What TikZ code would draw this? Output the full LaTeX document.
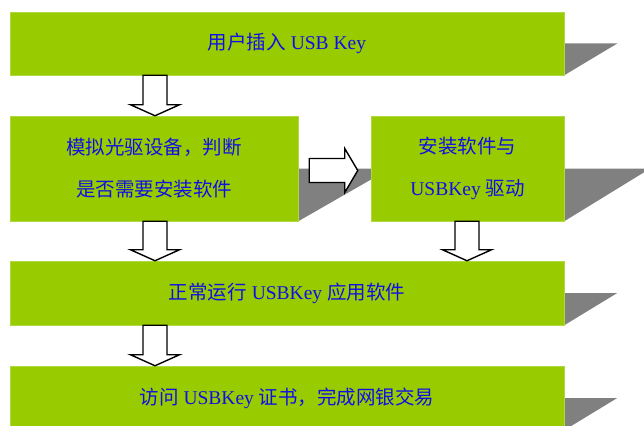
\documentclass[tikz,border=0pt]{standalone}
\usepackage{fontspec}
\setmainfont{Liberation Serif}
\newfontfamily\cjk{Noto Sans CJK SC}
\usetikzlibrary{calc,backgrounds}
\definecolor{boxgreen}{RGB}{153,204,0}
\definecolor{boxedge}{RGB}{176,216,64}
\definecolor{shadowgray}{RGB}{128,128,128}
\definecolor{txtblue}{RGB}{16,16,230}
\newcommand\zh[1]{{\cjk #1}}
\tikzset{
  stepbox/.style={rectangle, fill=boxgreen, draw=boxedge, line width=0.5pt,
    inner sep=0pt, text=txtblue, align=center,
    font=\fontsize{19.5}{42}\selectfont},
  shade3d/.style={fill=shadowgray},
  blockarrow/.style={draw=black, fill=white, line width=1.4pt, line join=miter}
}
% vertical block arrow at x=#1 (px) from node #2 (bottom) to node #3 (top)
\newcommand\varrow[3]{%
  \path let \p1=(#2.south), \p2=(#3.north) in [blockarrow]
    (#1pt-12pt,\y1) -- (#1pt+12pt,\y1) -- (#1pt+12pt,\y2+11pt)
    -- (#1pt+24.5pt,\y2+11pt) -- (#1pt,\y2) -- (#1pt-24.5pt,\y2+11pt)
    -- (#1pt-12pt,\y2+11pt) -- cycle;}
% horizontal block arrow from node #1 (right side) to node #2 (left side)
\newcommand\harrow[2]{%
  \path let \p1=(#1.east), \p2=(#2.west) in [blockarrow]
    (\x1+11pt,\y1+10pt) -- (\x2-26pt,\y1+10pt) -- (\x2-26pt,\y1+20pt)
    -- (\x2-13pt,\y1-2pt) -- (\x2-26pt,\y1-24pt) -- (\x2-26pt,\y1-14pt)
    -- (\x1+11pt,\y1-14pt) -- cycle;}
\begin{document}
\begin{tikzpicture}[x=1pt,y=-1pt]
\useasboundingbox (0,0) rectangle (644,425);
\clip (0,0) rectangle (644,425);
\node[stepbox, minimum width=554pt, minimum height=63pt] (b1) at (287,43.5)
    {\zh{用户插入} USB Key};
\node[stepbox, minimum width=288pt, minimum height=105pt] (b2) at (154,168.5)
    {\zh{模拟光驱设备，判断}\\\zh{是否需要安装软件}};
\node[stepbox, minimum width=193pt, minimum height=105pt] (b3) at (467.5,168.5)
    {\zh{安装软件与}\\USBKey \zh{驱动}};
\node[stepbox, minimum width=554pt, minimum height=64pt] (b4) at (287,293)
    {\zh{正常运行} USBKey \zh{应用软件}};
\node[stepbox, minimum width=554pt, minimum height=64pt] (b5) at (287,398)
    {\zh{访问} USBKey \zh{证书，完成网银交易}};
% perspective shadows behind the boxes
\begin{scope}[on background layer]
\fill[shade3d] (b1.east) -- ++(53,0) -- (b1.south east) -- cycle;
\fill[shade3d] (b2.east) -- ++(92,0) -- (b2.south east) -- cycle;
\fill[shade3d] (b3.east) -- ++(86,0) -- (b3.south east) -- cycle;
\fill[shade3d] (b4.east) -- ++(53,0) -- (b4.south east) -- cycle;
\fill[shade3d] (b5.east) -- ++(53,0) -- (b5.south east) -- cycle;
\end{scope}
% block arrows
\varrow{155}{b1}{b2}
\varrow{155}{b2}{b4}
\varrow{467}{b3}{b4}
\varrow{155}{b4}{b5}
\harrow{b2}{b3}
\end{tikzpicture}
\end{document}
